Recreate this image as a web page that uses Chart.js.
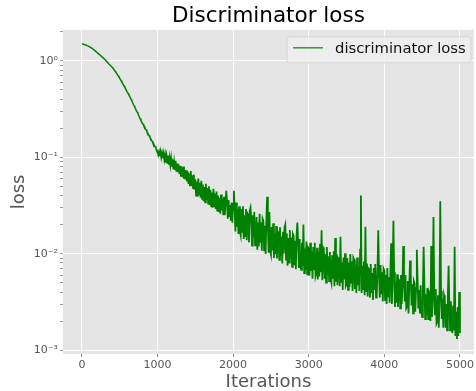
<!DOCTYPE html>
<html>
<head>
<meta charset="utf-8">
<script src="https://cdn.jsdelivr.net/npm/chart.js@4.4.1/dist/chart.umd.min.js"></script>
<style>
  html, body { margin: 0; padding: 0; background: #fff; overflow: hidden; }
  #wrap { width: 476px; height: 391px; }
</style>
</head>
<body>
<div id="wrap"><canvas id="lossChart" width="476" height="391"></canvas></div>
<script>
// Chart text
const chartTitle = 'Discriminator loss';
const seriesLabel = 'discriminator loss';
const xTitle = 'Iterations';
const yTitle = 'loss';

// Axis ticks
const xTicks = [0, 1000, 2000, 3000, 4000, 5000];
const yMajorTicks = [0.001, 0.01, 0.1, 1];
const yTickLabels = ['10⁻³', '10⁻²', '10⁻¹', '10⁰'];

// Loss values, one every 10 iterations (0 .. 5000)
// each row below covers 100 iterations
const iterStep = 10;
const lossValues = [
    1.50, 1.495, 1.49, 1.48, 1.47, 1.46, 1.45, 1.44, 1.43, 1.415,              // 0
    1.40, 1.385, 1.37, 1.355, 1.34, 1.32, 1.30, 1.28, 1.26, 1.24,              // 100
    1.22, 1.20, 1.18, 1.165, 1.15, 1.13, 1.11, 1.095, 1.08, 1.06,              // 200
    1.04, 1.02, 1.00, 0.98, 0.96, 0.94, 0.92, 0.905, 0.89, 0.875,              // 300
    0.86, 0.84, 0.82, 0.80, 0.78, 0.76, 0.74, 0.72, 0.70, 0.68,                // 400
    0.66, 0.64, 0.62, 0.60, 0.58, 0.562, 0.545, 0.527, 0.51, 0.492,            // 500
    0.475, 0.46, 0.445, 0.43, 0.415, 0.40, 0.385, 0.37, 0.355, 0.342,          // 600
    0.33, 0.318, 0.305, 0.295, 0.285, 0.273, 0.262, 0.252, 0.242, 0.233,       // 700
    0.225, 0.22, 0.21, 0.207, 0.197, 0.193, 0.183, 0.180, 0.171, 0.168,        // 800
    0.160, 0.157, 0.149, 0.147, 0.139, 0.138, 0.130, 0.129, 0.122, 0.120,      // 900
    0.116, 0.106, 0.114, 0.103, 0.114, 0.100, 0.110, 0.098, 0.109, 0.095,      // 1000
    0.106, 0.088, 0.102, 0.086, 0.104, 0.084, 0.098, 0.083, 0.097, 0.080,      // 1100
    0.094, 0.075, 0.089, 0.074, 0.092, 0.071, 0.086, 0.070, 0.084, 0.067,      // 1200
    0.081, 0.063, 0.078, 0.062, 0.080, 0.060, 0.074, 0.059, 0.073, 0.056,      // 1300
    0.071, 0.053, 0.068, 0.051, 0.072, 0.050, 0.065, 0.048, 0.066, 0.046,      // 1400
    0.059, 0.040, 0.056, 0.039, 0.060, 0.041, 0.054, 0.038, 0.057, 0.037,      // 1500
    0.052, 0.035, 0.049, 0.034, 0.053, 0.036, 0.048, 0.033, 0.050, 0.032,      // 1600
    0.046, 0.031, 0.043, 0.030, 0.047, 0.031, 0.042, 0.029, 0.044, 0.028,      // 1700
    0.040, 0.027, 0.038, 0.026, 0.041, 0.028, 0.037, 0.025, 0.039, 0.025,      // 1800
    0.035, 0.045, 0.033, 0.023, 0.036, 0.024, 0.032, 0.022, 0.034, 0.021,      // 1900
    0.033, 0.045, 0.030, 0.017, 0.034, 0.019, 0.029, 0.016, 0.031, 0.017,      // 2000
    0.0155, 0.029, 0.0168, 0.031, 0.0142, 0.025, 0.0152, 0.029, 0.0138, 0.026, // 2100
    0.025, 0.0131, 0.028, 0.030, 0.0225, 0.0121, 0.025, 0.0148, 0.027, 0.0122, // 2200
    0.0127, 0.024, 0.0110, 0.021, 0.0119, 0.026, 0.0130, 0.021, 0.0107, 0.023, // 2300
    0.0218, 0.0108, 0.0195, 0.0099, 0.023, 0.039, 0.0185, 0.0102, 0.027, 0.0106, // 2400
    0.0098, 0.0189, 0.0108, 0.0207, 0.0090, 0.0163, 0.0099, 0.0193, 0.0089, 0.0170, // 2500
    0.0165, 0.0086, 0.0188, 0.0095, 0.0151, 0.0079, 0.0169, 0.0100, 0.0187, 0.0200, // 2600
    0.0087, 0.0162, 0.0075, 0.0145, 0.0081, 0.0176, 0.0089, 0.0147, 0.0073, 0.0160, // 2700
    0.0153, 0.0076, 0.0136, 0.0069, 0.0160, 0.021, 0.0128, 0.0071, 0.0142, 0.0075,  // 2800
    0.0068, 0.0130, 0.0075, 0.020, 0.0063, 0.0113, 0.0068, 0.0134, 0.0061, 0.0117,  // 2900
    0.0114, 0.0059, 0.0130, 0.0066, 0.0105, 0.0055, 0.0117, 0.0069, 0.0130, 0.0058, // 3000
    0.0062, 0.0115, 0.0054, 0.0104, 0.0058, 0.0127, 0.0064, 0.0175, 0.0053, 0.0116, // 3100
    0.0112, 0.0055, 0.0099, 0.0050, 0.0117, 0.0060, 0.0094, 0.0052, 0.0104, 0.0055, // 3200
    0.0050, 0.0096, 0.0055, 0.0106, 0.0046, 0.0145, 0.0051, 0.0100, 0.0047, 0.0090, // 3300
    0.0088, 0.0046, 0.0150, 0.0051, 0.0081, 0.0042, 0.0091, 0.0054, 0.0101, 0.0046, // 3400
    0.0048, 0.0090, 0.0042, 0.0081, 0.0045, 0.0099, 0.0050, 0.0083, 0.0041, 0.0091, // 3500
    0.0087, 0.0043, 0.0077, 0.0039, 0.0091, 0.0047, 0.0073, 0.0041, 0.0110, 0.040,  // 3600
    0.0039, 0.0075, 0.0043, 0.0083, 0.0037, 0.019, 0.0041, 0.0079, 0.0036, 0.0070,  // 3700
    0.0068, 0.0035, 0.0078, 0.0039, 0.0063, 0.0033, 0.0071, 0.0042, 0.0078, 0.0035, // 3800
    0.0037, 0.0069, 0.0175, 0.0062, 0.0035, 0.0076, 0.0038, 0.0064, 0.0032, 0.0070, // 3900
    0.0067, 0.0033, 0.0060, 0.0030, 0.0071, 0.0036, 0.0057, 0.0031, 0.0064, 0.0128, // 4000
    0.0030, 0.0058, 0.022, 0.0064, 0.0028, 0.0051, 0.0031, 0.0061, 0.0028, 0.0054,  // 4100
    0.0052, 0.0027, 0.0060, 0.0030, 0.0048, 0.012, 0.0054, 0.0032, 0.0060, 0.0027,  // 4200
    0.0028, 0.0052, 0.0024, 0.0047, 0.0085, 0.0057, 0.0029, 0.0048, 0.0024, 0.0052, // 4300
    0.0049, 0.0025, 0.0044, 0.011, 0.0052, 0.0027, 0.0042, 0.0024, 0.0047, 0.0025,  // 4400
    0.0022, 0.0043, 0.0118, 0.0047, 0.0021, 0.0038, 0.0023, 0.0044, 0.0021, 0.0040, // 4500
    0.0038, 0.0020, 0.012, 0.0022, 0.0035, 0.024, 0.0039, 0.0023, 0.0043, 0.0019,   // 4600
    0.0020, 0.0037, 0.0017, 0.0033, 0.035, 0.0041, 0.0021, 0.0034, 0.0017, 0.0037,  // 4700
    0.0034, 0.0017, 0.0030, 0.0016, 0.0036, 0.0075, 0.0029, 0.0016, 0.0032, 0.0017, // 4800
    0.0015, 0.0029, 0.0016, 0.0118, 0.0014, 0.0025, 0.0013, 0.0028, 0.0014, 0.0040, // 4900
    0.0015                                                                          // 5000
];

const FONT = "'DejaVu Sans', 'Liberation Sans', sans-serif";
const lineColor = '#008000';

function isMajor(v) {
    const e = Math.log10(v);
    return Math.abs(e - Math.round(e)) < 1e-9;
}

// Grey panel behind the data (ggplot look)
const panelBg = {
    id: 'panelBg',
    beforeDraw(chart) {
        const { ctx, chartArea: a } = chart;
        ctx.save();
        ctx.fillStyle = '#E5E5E5';
        ctx.fillRect(a.left, a.top, a.right - a.left, a.bottom - a.top);
        ctx.restore();
    }
};

// Legend box drawn in the upper right of the panel
const insideLegend = {
    id: 'insideLegend',
    afterDatasetsDraw(chart) {
        const { ctx, chartArea: a } = chart;
        const x = 287, y = a.top + 7, w = a.right - 3 - x, h = 26;
        ctx.save();
        ctx.beginPath();
        ctx.roundRect(x, y, w, h, 3);
        ctx.fillStyle = 'rgba(238, 238, 238, 0.85)';
        ctx.fill();
        ctx.strokeStyle = '#d6d6d6';
        ctx.lineWidth = 1;
        ctx.stroke();
        ctx.beginPath();
        ctx.moveTo(x + 6, y + 11);
        ctx.lineTo(x + 36, y + 11);
        ctx.strokeStyle = '#2f9a2f';
        ctx.lineWidth = 1.5;
        ctx.stroke();
        ctx.fillStyle = '#111';
        ctx.font = '14.8px ' + FONT;
        ctx.textBaseline = 'middle';
        ctx.fillText(chart.data.datasets[0].label, x + 48, y + 12);
        ctx.restore();
    }
};

const ctx = document.getElementById('lossChart');
new Chart(ctx, {
    type: 'line',
    data: {
        datasets: [{
            label: seriesLabel,
            data: lossValues.map((v, i) => ({ x: i * iterStep, y: v })),
            borderColor: lineColor,
            borderWidth: 1.5,
            segment: {
                // noisy part a little heavier so it reads as a solid band
                borderWidth: (c) => c.p0.parsed.x >= 1000 ? 1.8 : 1.5
            },
            pointRadius: 0,
            tension: 0,
            fill: false
        }]
    },
    options: {
        responsive: false,
        animation: false,
        layout: { padding: { left: 0, right: 0, top: 0, bottom: 0 } },
        plugins: {
            legend: { display: false },
            tooltip: { enabled: false },
            title: {
                display: true,
                text: chartTitle,
                fullSize: false,
                color: '#000',
                font: { family: FONT, size: 21.5, weight: 'normal' },
                padding: { top: 4, bottom: 0 }
            }
        },
        scales: {
            x: {
                type: 'linear',
                min: -250,
                max: 5185,
                afterBuildTicks: (scale) => { scale.ticks = xTicks.map(v => ({ value: v })); },
                afterFit: (scale) => { scale.height = 37; },
                border: { display: false },
                grid: { color: '#fff', lineWidth: 1, tickColor: '#888', tickLength: 3 },
                ticks: {
                    color: '#555',
                    font: { family: FONT, size: 11 },
                    padding: 2,
                    maxRotation: 0,
                    autoSkip: false,
                    callback: (v) => String(v)
                },
                title: {
                    display: true,
                    text: xTitle,
                    color: '#555',
                    font: { family: FONT, size: 18 },
                    padding: { top: 0, bottom: -2 }
                }
            },
            y: {
                type: 'logarithmic',
                min: 0.00091,
                max: 2.1,
                afterBuildTicks: (scale) => {
                    const t = [];
                    yMajorTicks.forEach(m => {
                        for (let k = 1; k <= 9; k++) {
                            const v = m * k;
                            if (v >= scale.min && v <= scale.max) t.push({ value: v });
                        }
                    });
                    scale.ticks = t;
                },
                afterFit: (scale) => { scale.width = 63; },
                border: { display: false },
                grid: {
                    color: (c) => (c.tick && isMajor(c.tick.value)) ? '#fff' : 'rgba(0,0,0,0)',
                    tickColor: '#999',
                    lineWidth: 1,
                    tickLength: 3
                },
                ticks: {
                    color: '#555',
                    font: { family: FONT, size: 11 },
                    padding: 2,
                    autoSkip: false,
                    callback: (v) => {
                        const idx = yMajorTicks.findIndex(m => Math.abs(m - v) / m < 1e-6);
                        return idx >= 0 ? yTickLabels[idx] : '';
                    }
                },
                title: {
                    display: true,
                    text: yTitle,
                    color: '#555',
                    font: { family: FONT, size: 18 },
                    padding: { top: 9, bottom: 0 }
                }
            }
        }
    },
    plugins: [panelBg, insideLegend]
});
</script>
</body>
</html>
